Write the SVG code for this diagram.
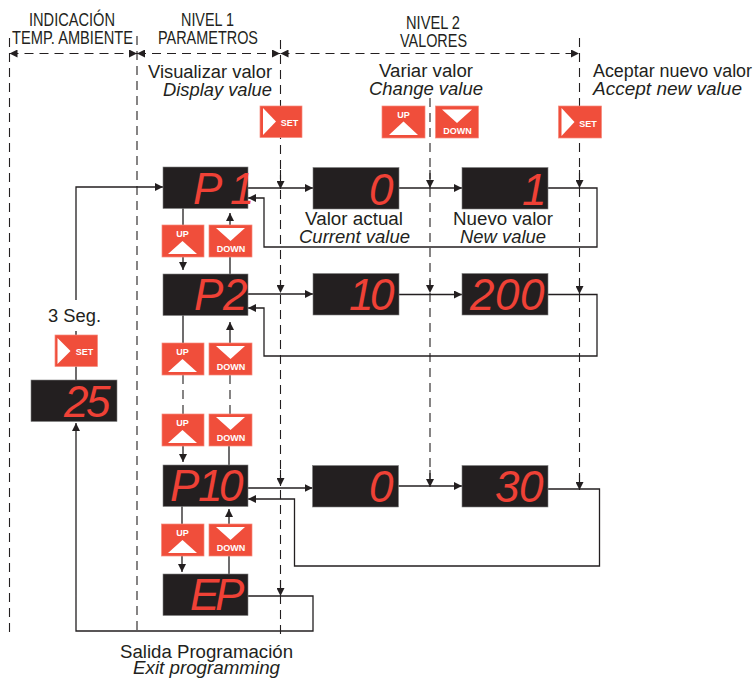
<svg xmlns="http://www.w3.org/2000/svg" width="755" height="678" viewBox="0 0 755 678">
<style>
text{font-family:"Liberation Sans",Arial,sans-serif;fill:#231f20}
.t{font-size:18px}.h{font-size:18px}.i{font-style:italic}
.lcd{font-size:44px;font-style:italic;fill:#ef4136}
.box{fill:#231f20;stroke:#808080;stroke-width:.6}
.btn{fill:#f04e3b;stroke:#f58a7c;stroke-width:.7}
.w{fill:#fff}
.bl{font-size:9px;font-weight:700;fill:#fff;text-anchor:middle}
.c{fill:none;stroke:#231f20;stroke-width:1.300}
.d{fill:none;stroke:#231f20;stroke-width:1.100;stroke-dasharray:9 6}
</style>
<defs>
<marker id="a" markerUnits="userSpaceOnUse" markerWidth="9" markerHeight="8" refX="8" refY="4" orient="auto-start-reverse"><path d="M0 0L8 4L0 8Z" fill="#231f20"/></marker>
</defs>
<g id="connectors">
<path class="d" d="M9.500 38V635M137 36V635M280.500 40V636M430 98V486" />
<path class="d" d="M579.500 38V490"/>
<g marker-end="url(#a)">
<path class="d" d="M9.500 53.500H137" marker-start="url(#a)"/>
<path class="d" d="M137 53.500H280" marker-start="url(#a)"/>
<path class="d" d="M280.500 53.500H579" marker-start="url(#a)"/>
<path class="d" d="M280.500 170V189"/><path class="d" d="M280.500 280V293"/><path class="d" d="M280.500 470V486"/><path class="d" d="M280.500 580V596"/>
<path class="d" d="M430 170V188"/><path class="d" d="M430 280V293"/><path class="d" d="M430 470V487"/>
<path class="d" d="M579.500 170V188"/><path class="d" d="M579.500 280V294"/><path class="d" d="M579.500 475V490"/>
<path class="c" d="M76 300V187H163"/>
<path class="c" d="M248 188H313"/><path class="c" d="M399 188H462"/>
<path class="c" d="M548 188H597V247H264V198H248"/>
<path class="c" d="M248 294H313"/><path class="c" d="M399 294.500H462"/>
<path class="c" d="M548 294.500H597V356H264V308H248"/>
<path class="c" d="M248 488H312.500"/><path class="c" d="M398 486H462"/>
<path class="c" d="M548 489H599.500V566H294.500V499H248"/>
<path class="c" d="M248 596H313V631H76V423"/>
<path class="c" d="M183 257V270"/><path class="c" d="M230 225V213"/>
<path class="c" d="M230 343V322"/><path class="c" d="M183 446V462"/>
<path class="c" d="M182 556V572"/><path class="c" d="M229 524V509"/>
</g>
<path class="c" d="M76 331V380M183 208V225M230 252V274M183 315V343M229 446V465M182 506V524M229 556V574"/>
<path class="d" d="M183 375V414M230 375V414"/>
</g>
<g id="headers">
<text class="h" x="29" y="26" textLength="86" lengthAdjust="spacingAndGlyphs">INDICACIÓN</text>
<text class="h" x="12" y="44" textLength="121" lengthAdjust="spacingAndGlyphs">TEMP. AMBIENTE</text>
<text class="h" x="181" y="26" textLength="53" lengthAdjust="spacingAndGlyphs">NIVEL 1</text>
<text class="h" x="158" y="44" textLength="100" lengthAdjust="spacingAndGlyphs">PARAMETROS</text>
<text class="h" x="406" y="29" textLength="54" lengthAdjust="spacingAndGlyphs">NIVEL 2</text>
<text class="h" x="400" y="47" textLength="67" lengthAdjust="spacingAndGlyphs">VALORES</text>
</g>
<g id="labels">
<text class="t" x="148" y="78" textLength="124" lengthAdjust="spacingAndGlyphs">Visualizar valor</text>
<text class="t i" x="163" y="96" textLength="109" lengthAdjust="spacingAndGlyphs">Display value</text>
<text class="t" x="379" y="77" textLength="94" lengthAdjust="spacingAndGlyphs">Variar valor</text>
<text class="t i" x="369" y="95" textLength="114" lengthAdjust="spacingAndGlyphs">Change value</text>
<text class="t" x="593" y="77" textLength="159" lengthAdjust="spacingAndGlyphs">Aceptar nuevo valor</text>
<text class="t i" x="593" y="95" textLength="149" lengthAdjust="spacingAndGlyphs">Accept new value</text>
<text class="t" x="305" y="225" textLength="98" lengthAdjust="spacingAndGlyphs">Valor actual</text>
<text class="t i" x="299" y="243" textLength="111" lengthAdjust="spacingAndGlyphs">Current value</text>
<text class="t" x="453" y="225" textLength="100" lengthAdjust="spacingAndGlyphs">Nuevo valor</text>
<text class="t i" x="460" y="243" textLength="86" lengthAdjust="spacingAndGlyphs">New value</text>
<text class="t" x="48" y="322" textLength="53" lengthAdjust="spacingAndGlyphs">3 Seg.</text>
<text class="t" x="120" y="658" textLength="173" lengthAdjust="spacingAndGlyphs">Salida Programación</text>
<text class="t i" x="133" y="673.500" textLength="147" lengthAdjust="spacingAndGlyphs">Exit programming</text>
</g>
<g id="btn-set-top1"><rect class="btn" x="260" y="106" width="42" height="31.500"/><path class="w" d="M263 108V135L276 121.500Z"/><text class="bl" x="289.500" y="126">SET</text></g>
<g id="btn-up-top"><rect class="btn" x="382" y="106" width="43" height="32"/><path class="w" d="M389 135H418L403.500 121.500Z"/><text class="bl" x="403.500" y="118">UP</text></g>
<g id="btn-down-top"><rect class="btn" x="435.500" y="106" width="43" height="32"/><path class="w" d="M442 109.500H472L457 123Z"/><text class="bl" x="457.500" y="134">DOWN</text></g>
<g id="btn-set-top2"><rect class="btn" x="558.500" y="106" width="43" height="32"/><path class="w" d="M561.500 108V136L574.500 122Z"/><text class="bl" x="588" y="127">SET</text></g>
<g id="btn-set-left"><rect class="btn" x="55" y="335" width="42.500" height="31.500"/><path class="w" d="M57.500 338V364L70.500 351Z"/><text class="bl" x="84.500" y="355">SET</text></g>
<g id="btn-up-1"><rect class="btn" x="162" y="225" width="42" height="32"/><path class="w" d="M168 254H197L182.500 241Z"/><text class="bl" x="182.500" y="237">UP</text></g>
<g id="btn-down-1"><rect class="btn" x="209" y="225" width="43" height="32"/><path class="w" d="M216 228H245L230.500 241Z"/><text class="bl" x="231" y="252">DOWN</text></g>
<g id="btn-up-2"><rect class="btn" x="162" y="343" width="42" height="32"/><path class="w" d="M168 372H197L182.500 359Z"/><text class="bl" x="182.500" y="355">UP</text></g>
<g id="btn-down-2"><rect class="btn" x="209" y="343" width="43" height="32"/><path class="w" d="M216 346H245L230.500 359Z"/><text class="bl" x="231" y="370">DOWN</text></g>
<g id="btn-up-3"><rect class="btn" x="162" y="414" width="42" height="32"/><path class="w" d="M168 443H197L182.500 430Z"/><text class="bl" x="182.500" y="426">UP</text></g>
<g id="btn-down-3"><rect class="btn" x="209" y="414" width="43" height="32"/><path class="w" d="M216 417H245L230.500 430Z"/><text class="bl" x="231" y="441">DOWN</text></g>
<g id="btn-up-4"><rect class="btn" x="161.500" y="524" width="42.500" height="32"/><path class="w" d="M168 553H197L182.500 540Z"/><text class="bl" x="182.500" y="536">UP</text></g>
<g id="btn-down-4"><rect class="btn" x="209" y="524" width="43" height="32"/><path class="w" d="M216 527H245L230.500 540Z"/><text class="bl" x="231" y="551">DOWN</text></g>
<g id="d-p1"><rect class="box" x="163" y="167" width="85" height="41.500"/><text class="lcd" x="193 230" y="204">P1</text></g>
<g id="d-0a"><rect class="box" x="313" y="167.500" width="86" height="41.500"/><text class="lcd" x="369" y="204.500">0</text></g>
<g id="d-1"><rect class="box" x="462" y="167.500" width="86" height="41.500"/><text class="lcd" x="522" y="204.500">1</text></g>
<g id="d-p2"><rect class="box" x="163" y="274" width="85" height="41.500"/><text class="lcd" x="194 223" y="310">P2</text></g>
<g id="d-10"><rect class="box" x="313" y="273.500" width="86" height="41.500"/><text class="lcd" x="349 370" y="310">10</text></g>
<g id="d-200"><rect class="box" x="462" y="273.500" width="86" height="41.500"/><text class="lcd" x="470 495 520" y="310">200</text></g>
<g id="d-25"><rect class="box" x="31" y="380" width="86" height="41.500"/><text class="lcd" x="64 86" y="417">25</text></g>
<g id="d-p10"><rect class="box" x="163" y="465" width="85" height="41.500"/><text class="lcd" x="170 198 219" y="501">P10</text></g>
<g id="d-0b"><rect class="box" x="312.500" y="465.500" width="86" height="41.500"/><text class="lcd" x="369" y="502">0</text></g>
<g id="d-30"><rect class="box" x="462" y="465.500" width="86" height="41.500"/><text class="lcd" x="495 519" y="502">30</text></g>
<g id="d-ep"><rect class="box" x="163" y="574" width="85" height="41.500"/><text class="lcd" x="190 215" y="610">EP</text></g>
</svg>
